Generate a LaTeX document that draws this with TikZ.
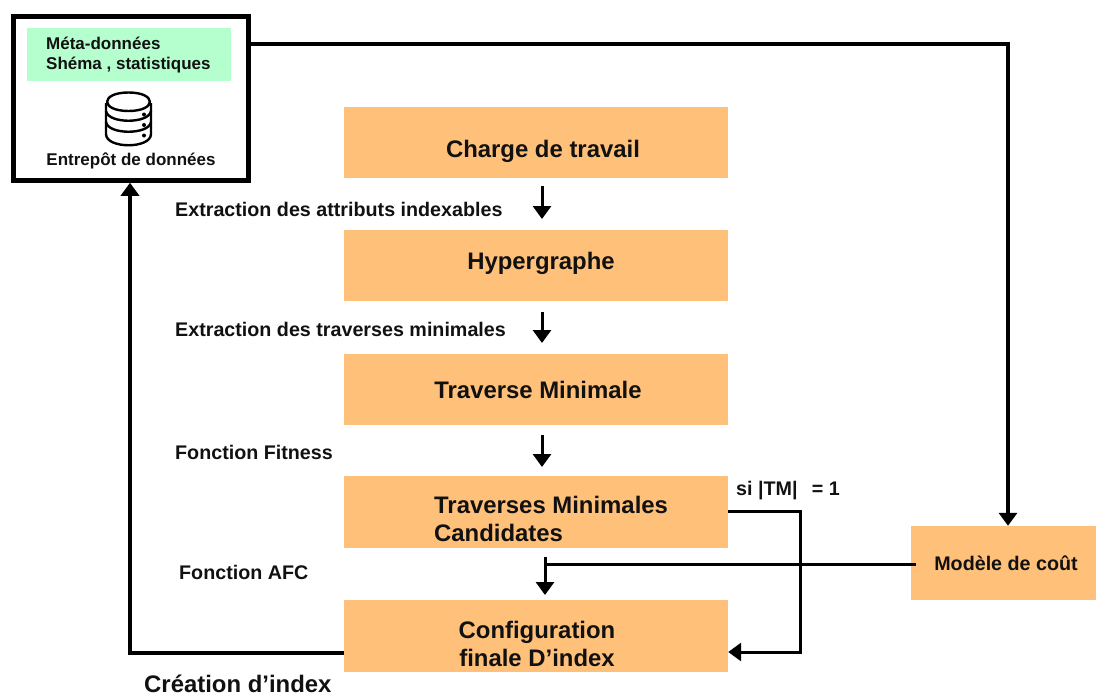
\documentclass[tikz,border=0pt]{standalone}
\usepackage{fontspec}
\setmainfont{Liberation Sans}
\usetikzlibrary{arrows.meta,calc}
\definecolor{boxorange}{HTML}{FFC07A}
\definecolor{metagreen}{HTML}{B5FFCF}
\definecolor{ink}{HTML}{111111}
\tikzset{
  stepbox/.style={fill=boxorange,draw=none,minimum width=384pt,inner sep=0pt,align=left},
  lab/.style={font=\fontsize{19.7}{24}\selectfont\bfseries,text=ink,anchor=west,inner sep=0pt},
  big/.style={font=\fontsize{23.9}{28}\selectfont\bfseries},
  small/.style={font=\fontsize{17}{20}\selectfont\bfseries},
  conn/.style={draw=black,line width=3pt,-{Triangle[length=13pt,width=18pt]}},
  plain/.style={draw=black,line width=3pt},
  dbline/.style={draw=black,line width=2.4pt}
}
\begin{document}
\begin{tikzpicture}[x=1pt,y=-1pt]
\useasboundingbox (0,0) rectangle (1096,696);
% store
\node[draw=black,line width=4.5pt,minimum width=235pt,minimum height=164pt,inner sep=0pt] (store) at (131,98.5) {};
\node[fill=metagreen,minimum width=204pt,minimum height=53pt,inner sep=0pt] (meta) at (129,54.5) {};
\node[lab,small,align=left] (metatext) at (46,55) {Méta-données\\Shéma , statistiques};
\node[lab,small,anchor=center] (dwh) at (131,161) {Entrepôt de données};
% database icon
\draw[dbline,fill=white] (106,103) -- (106,134) .. controls (106,149) and (151,149) .. (151,134) -- (151,103);
\draw[dbline] (128.5,92.5) .. controls (100,92.5) and (100,111) .. (128.5,111) .. controls (157,111) and (157,92.5) .. (128.5,92.5);
\draw[dbline] (106,111) .. controls (108,124) and (149,124) .. (151,111);
\draw[dbline] (106,122) .. controls (108,135) and (149,135) .. (151,122);
\fill (144,114.5) circle (2pt) (144,125) circle (2pt) (144,135.5) circle (2pt);
% boxes
\node[stepbox,minimum height=71pt] (charge) at (536,142.5) {};
\node[stepbox,minimum height=71pt] (hyper) at (536,265.5) {};
\node[stepbox,minimum height=71pt] (tm) at (536,389.5) {};
\node[stepbox,minimum height=72pt] (cand) at (536,512) {};
\node[stepbox,minimum height=72pt] (conf) at (536,636) {};
\node[fill=boxorange,minimum width=185pt,minimum height=74pt,inner sep=0pt] (cout) at (1003.5,563) {};
% box texts
\node[lab,big,anchor=center] (t1) at (543,151) {Charge de travail};
\node[lab,big,anchor=center] (t2) at (541,263) {Hypergraphe};
\node[lab,big,anchor=center] (t3) at (538,389.5) {Traverse Minimale};
\node[lab,big,align=left] (t4) at (434,519) {Traverses Minimales\\Candidates};
\node[lab,big,align=center,anchor=center] (t5) at (537,643.5) {Configuration\\finale D’index};
\node[lab,anchor=center] (t6) at (1006,563.5) {Modèle de coût};
% labels
\node[lab] (l1) at (175,209.5) {Extraction des attributs indexables};
\node[lab] (l2) at (175,329.5) {Extraction des traverses minimales};
\node[lab] (l3) at (175,452.5) {Fonction Fitness};
\node[lab] (l4) at (179,572.5) {Fonction AFC};
\node[lab] (l5) at (736,491) {si |TM|\ \ \,= 1};
\node[lab,big] (l6) at (144,684) {Création d’index};
% vertical arrows
\coordinate (a1) at (542,186); \coordinate (a1e) at (542,219);
\coordinate (a2) at (542,312); \coordinate (a2e) at (542,343);
\coordinate (a3) at (542,435); \coordinate (a3e) at (542,467);
\draw[conn] (a1) -- (a1e);
\draw[conn] (a2) -- (a2e);
\draw[conn] (a3) -- (a3e);
% store to cost model
\coordinate (c1) at (1008,44);
\draw[conn,line width=3.8pt] (store.east |- c1) -- (c1) -- (c1 |- cout.north);
% cost model to final configuration
\coordinate (m3) at (916,564);
\coordinate (m1) at (545,564); \coordinate (m0) at (545,557); \coordinate (m2) at (545,595);
\draw[plain] (m3) -- (m1);
\draw[conn] (m0) -- (m2);
% candidates to configuration
\coordinate (k1) at (800,511); \coordinate (k2) at (800,652);
\draw[conn] (cand.east |- k1) -- (k1) -- (k2) -- (conf.east |- k2);
% configuration to store
\coordinate (b1) at (130,653);
\draw[conn,line width=3.8pt] (conf.west |- b1) -- (b1) -- (b1 |- store.south);
\end{tikzpicture}
\end{document}
